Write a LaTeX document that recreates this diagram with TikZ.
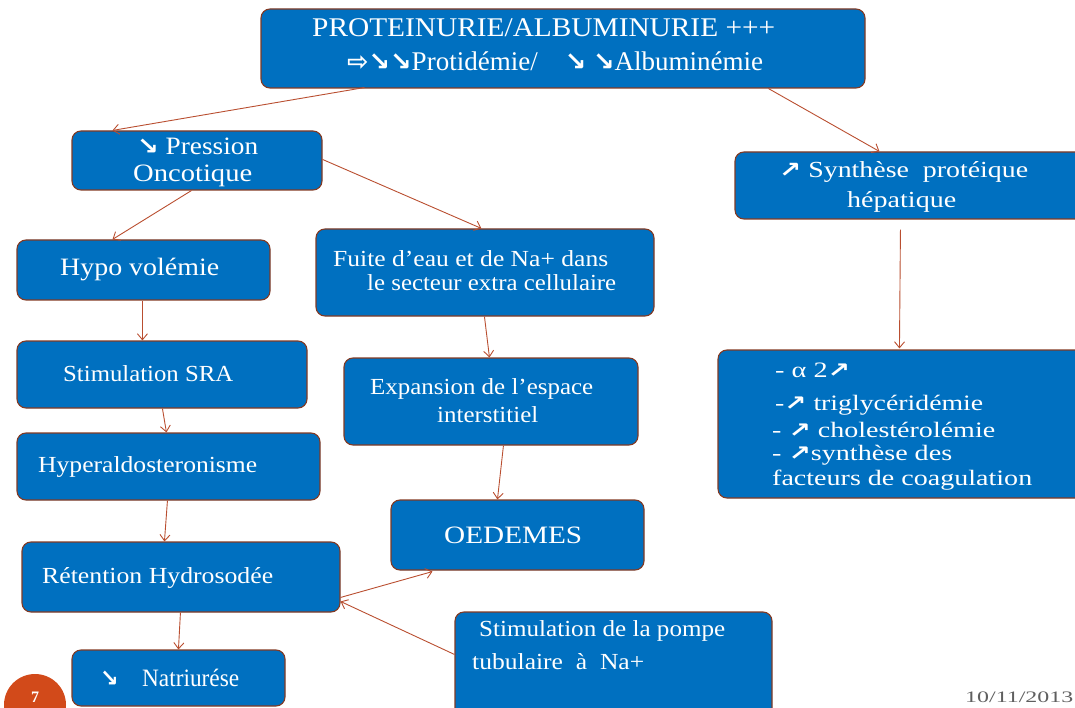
\documentclass[tikz,border=0pt]{standalone}
\usepackage{fontspec}
\usepackage{graphicx}
\setmainfont{Liberation Serif}
\newfontfamily\sym{DejaVu Sans}
\usetikzlibrary{calc,arrows.meta}
\definecolor{boxblue}{RGB}{0,112,192}
\definecolor{boxedge}{RGB}{130,58,36}
\definecolor{arr}{RGB}{185,78,48}
\definecolor{circ}{RGB}{210,74,26}
\definecolor{dategray}{RGB}{95,95,95}
\newcommand{\fw}[2]{\resizebox{#1pt}{\height}{#2}}
\newcommand{\ar}[1]{{\sym\bfseries\scalebox{0.95}{#1}}}
\tikzset{
  box/.style={draw=boxedge, line width=1.1pt, fill=boxblue, rounded corners=9pt, inner sep=0pt},
  txt/.style={text=white, inner sep=0pt, anchor=west},
  conn/.style={draw=arr, line width=0.9pt, -{Straight Barb[length=6pt,width=10pt]}},
}
\newcommand{\bx}[5]{\node[box, minimum width={(#4)-(#2)}, minimum height={(#5)-(#3)}] (#1) at ({((#2)+(#4))/2},{((#3)+(#5))/2}) {};}
\begin{document}
\begin{tikzpicture}[x=1pt,y=-1pt]
\useasboundingbox (0,0) rectangle (1075,708);
\clip (0,0) rectangle (1075,708);
% boxes
\bx{top}{261}{9}{865}{88}
\bx{pres}{72}{131}{322}{190}
\bx{syn}{735}{152}{1085}{219}
\bx{hypo}{17}{240}{270}{300}
\bx{fuite}{316}{229}{654}{316}
\bx{sra}{17}{341}{307}{408}
\bx{exp}{344}{358}{638}{445}
\bx{hyp}{17}{433}{320}{500}
\bx{oed}{391}{500}{644}{570}
\bx{ret}{22}{542}{340}{612}
\bx{pompe}{455}{612}{772}{718}
\bx{natr}{72}{650}{285}{706}
\bx{list}{718}{350}{1085}{498}
% circle and date
\node[circle, fill=circ, minimum size=62pt, inner sep=0pt] (num) at (35,705) {};
\node[text=white, font=\fontsize{16}{16}\selectfont\bfseries, inner sep=0pt] at (35,697) {7};
\node[text=dategray, font=\fontsize{16}{16}\selectfont, inner sep=0pt, anchor=west] (date) at (965,697) {\fw{108}{10/11/2013}};
% texts
\begin{scope}[font=\fontsize{27}{27}\selectfont]
\node[txt] at (312,28) {\fw{463}{PROTEINURIE/ALBUMINURIE +++}};
\node[txt] at (347,61) {\fw{416}{\ar{⇨↘↘}Protidémie/\quad \ar{↘} \ar{↘}Albuminémie}};
\end{scope}
\begin{scope}[font=\fontsize{25}{25}\selectfont]
\node[txt] at (137,146) {\fw{121}{\ar{↘} Pression}};
\node[txt] at (133,176) {\fw{119}{Oncotique}};
\node[txt] at (60,270) {\fw{159}{Hypo volémie}};
\node[txt] at (444,535) {\fw{138}{OEDEMES}};
\node[txt] at (100,678) {\fw{139}{\ar{↘}\quad Natriurése}};
\end{scope}
\begin{scope}[font=\fontsize{23}{23}\selectfont]
\node[txt] at (779,172) {\fw{249}{\ar{↗} Synthèse\ \ protéique}};
\node[txt] at (847,202) {\fw{109}{hépatique}};
\end{scope}
\begin{scope}[font=\fontsize{22}{22}\selectfont]
\node[txt] at (775,370) {\fw{75}{- α 2\ar{↗}}};
\node[txt] at (775,405) {\fw{208}{-\ar{↗} triglycéridémie}};
\node[txt] at (772,430) {\fw{223}{- \ar{↗} cholestérolémie}};
\node[txt] at (772,455) {\fw{180}{- \ar{↗}synthèse des}};
\node[txt] at (772,480) {\fw{260}{facteurs de coagulation}};
\end{scope}
\begin{scope}[font=\fontsize{23}{23}\selectfont]
\node[txt] at (333,259) {\fw{275}{Fuite d’eau et de Na+ dans}};
\node[txt] at (367,283) {\fw{249}{le secteur extra cellulaire}};
\node[txt] at (63,374) {\fw{170}{Stimulation SRA}};
\node[txt] at (370,389) {\fw{223}{Expansion de l’espace}};
\node[txt] at (437,415) {\fw{101}{interstitiel}};
\node[txt] at (38,467) {\fw{219}{Hyperaldosteronisme}};
\node[txt] at (42,578) {\fw{231}{Rétention Hydrosodée}};
\node[txt] at (479,631) {\fw{246}{Stimulation de la pompe}};
\node[txt] at (472,662) {\fw{172}{tubulaire\ \ à\ \ Na+}};
\end{scope}
% connectors
\draw[conn] ($(top.south west)+(104,-1)$) -- ($(pres.north west)+(41,0)$);
\draw[conn] ($(top.south west)+(508,0)$) -- ($(syn.north west)+(145,0)$);
\draw[conn] ($(pres.south west)+(120,0)$) -- ($(hypo.north west)+(96,0)$);
\draw[conn] ($(pres.north east)+(0,29)$) -- ($(fuite.north west)+(166,0)$);
\draw[conn] ($(hypo.south west)+(126,0)$) -- ($(sra.north west)+(126,0)$);
\draw[conn] ($(sra.south west)+(146,0)$) -- ($(hyp.north west)+(150,0)$);
\draw[conn] ($(hyp.south west)+(151,0)$) -- ($(ret.north west)+(143,0)$);
\draw[conn] ($(ret.south west)+(159,0)$) -- ($(natr.north west)+(107,0)$);
\draw[conn] ($(fuite.south west)+(169,0)$) -- ($(exp.north west)+(146,0)$);
\draw[conn] ($(exp.south west)+(160,0)$) -- ($(oed.north west)+(107,0)$);
\draw[conn] ($(ret.north east)+(0,56)$) -- ($(oed.south west)+(42,1)$);
\draw[conn] ($(pompe.north west)+(0,43)$) -- ($(ret.north east)+(0,60)$);
\coordinate (synout) at ($(syn.south west)+(166,10)$);
\draw[conn] (synout) -- ($(list.north west)+(182,-1)$);
\end{tikzpicture}
\end{document}
